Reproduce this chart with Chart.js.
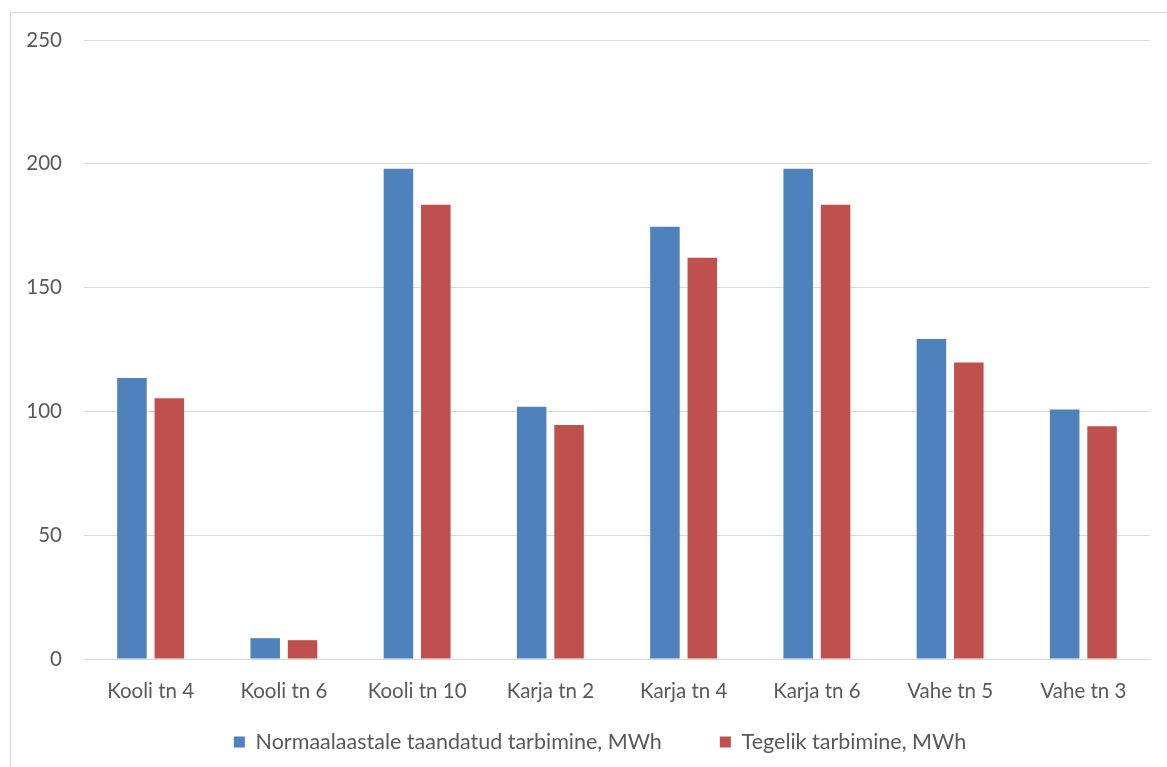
<!DOCTYPE html>
<html>
<head>
<meta charset="utf-8">
<script src="https://cdn.jsdelivr.net/npm/chart.js@4/dist/chart.umd.min.js"></script>
<style>
  html, body { margin: 0; padding: 0; background: #fff; overflow: hidden; }
  #wrap { position: relative; width: 1167px; height: 767px; }
  #frame { position: absolute; left: 10px; top: 12px; width: 1200px; height: 800px;
           border-left: 1px solid #d9d9d9; border-top: 1px solid #d9d9d9; box-sizing: border-box; }
  canvas { position: absolute; left: 0; top: 0; }
</style>
</head>
<body>
<div id="wrap">
  <div id="frame"></div>
  <canvas id="c" width="1167" height="767"></canvas>
</div>
<script>
// Buildings and heat consumption (MWh)
const categories = ['Kooli tn 4', 'Kooli tn 6', 'Kooli tn 10', 'Karja tn 2', 'Karja tn 4', 'Karja tn 6', 'Vahe tn 5', 'Vahe tn 3'];
const normalizedUse = [113.5, 8.4, 198.0, 101.9, 174.6, 198.0, 129.2, 100.8];
const actualUse = [105.3, 7.6, 183.5, 94.5, 162.1, 183.5, 119.8, 94.0];
const seriesNames = ['Normaalaastale taandatud tarbimine, MWh', 'Tegelik tarbimine, MWh'];
const yTicks = [0, 50, 100, 150, 200, 250];

const textColor = '#595959';
const fontFamily = 'Lato, "Open Sans", sans-serif';

// Keeps the legend strip compact in the layout (wide item spacing without
// extra height), then stretches its box upward and shifts it sideways.
const legendPlacement = {
  id: 'legendPlacement',
  beforeLayout(chart, args, opts) {
    const legend = chart.legend;
    if (legend && !legend._fixedFit) {
      const fit = legend.fit.bind(legend);
      legend.fit = function () { fit(); this.height = opts.height; };
      legend._fixedFit = true;
    }
  },
  afterLayout(chart, args, opts) {
    const legend = chart.legend;
    legend.left += opts.dx;
    legend.right += opts.dx;
    legend.top += opts.dy;
    legend.height = legend.bottom - legend.top;
  }
};

new Chart(document.getElementById('c'), {
  type: 'bar',
  data: {
    labels: categories,
    datasets: [
      { label: seriesNames[0], data: normalizedUse, backgroundColor: '#4f81bd' },
      { label: seriesNames[1], data: actualUse, backgroundColor: '#c0504d' }
    ]
  },
  plugins: [legendPlacement],
  options: {
    responsive: false,
    animation: false,
    devicePixelRatio: 1,
    categoryPercentage: 0.561,
    barPercentage: 0.79,
    layout: { padding: { left: 0, right: 17, top: 40, bottom: 0 } },
    plugins: {
      tooltip: { enabled: false },
      legendPlacement: { height: 46, dx: 25, dy: -47.75 },
      legend: {
        position: 'bottom',
        labels: {
          color: textColor,
          font: { family: fontFamily, size: 21.5 },
          boxWidth: 11,
          boxHeight: 11,
          padding: 58
        }
      }
    },
    scales: {
      x: {
        grid: { display: false, drawTicks: false },
        border: { display: true, color: '#d9d9d9', width: 1 },
        ticks: { color: textColor, font: { family: fontFamily, size: 20.5 }, padding: 20, maxRotation: 0 },
        afterFit(scale) { scale.height = 62; }
      },
      y: {
        min: 0,
        max: 250,
        afterBuildTicks(scale) { scale.ticks = yTicks.map(v => ({ value: v })); },
        grid: { color: '#d9d9d9', drawTicks: false },
        border: { display: false },
        ticks: { color: textColor, font: { family: fontFamily, size: 20.5 }, padding: 22 },
        afterFit(scale) { scale.width = 84; }
      }
    }
  }
});
</script>
</body>
</html>
